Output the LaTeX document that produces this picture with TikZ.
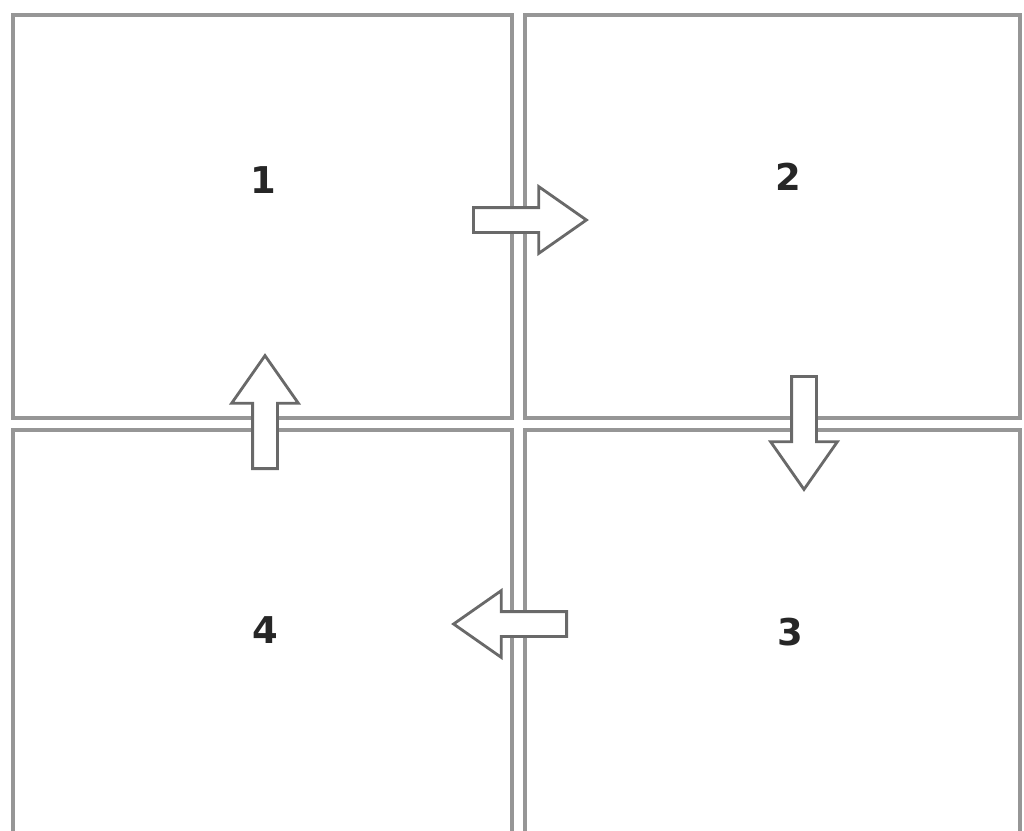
\documentclass[tikz,border=0pt]{standalone}
\usepackage{fontspec}
\setmainfont{DejaVu Sans}
\usepackage{tikz}
\usetikzlibrary{shapes.arrows, positioning, calc}
\definecolor{framegray}{RGB}{150, 150, 150}

\begin{document}
\begin{tikzpicture}[
    panel/.style={rectangle, draw=framegray, line width=1.3pt, fill=white, inner sep=0pt},
    num/.style={font=\bfseries\fontsize{10.5}{12}\selectfont, text=black!85},
    flow/.style={single arrow, draw=framegray!70!black, line width=0.8pt, fill=white, anchor=tail,
        inner xsep=0pt, inner ysep=0.11cm, single arrow head extend=0.21cm,
        single arrow tip angle=70, minimum height=1.13cm}
]

    \useasboundingbox (0,0) rectangle (10.24,-8.31);

    \node[panel, minimum width=4.99cm, minimum height=4.03cm] (p1) at (2.625,-2.165) {};
    \node[panel, minimum width=4.95cm, minimum height=4.03cm] (p2) at (7.725,-2.165) {};
    \node[panel, minimum width=4.95cm, minimum height=4.20cm] (p3) at (7.725,-6.40) {};
    \node[panel, minimum width=4.99cm, minimum height=4.20cm] (p4) at (2.625,-6.40) {};

    \node[num] (n1) at (2.63,-1.80) {1};
    \node[num] (n2) at (7.88,-1.77) {2};
    \node[num] (n3) at (7.90,-6.32) {3};
    \node[num] (n4) at (2.65,-6.30) {4};

    \node[flow] (a12) at (4.72,-2.20) {};
    \node[flow, rotate=-90] (a23) at (8.04,-3.75) {};
    \node[flow, rotate=180] (a34) at (5.68,-6.24) {};
    \node[flow, rotate=90] (a41) at (2.65,-4.70) {};

\end{tikzpicture}
\end{document}
